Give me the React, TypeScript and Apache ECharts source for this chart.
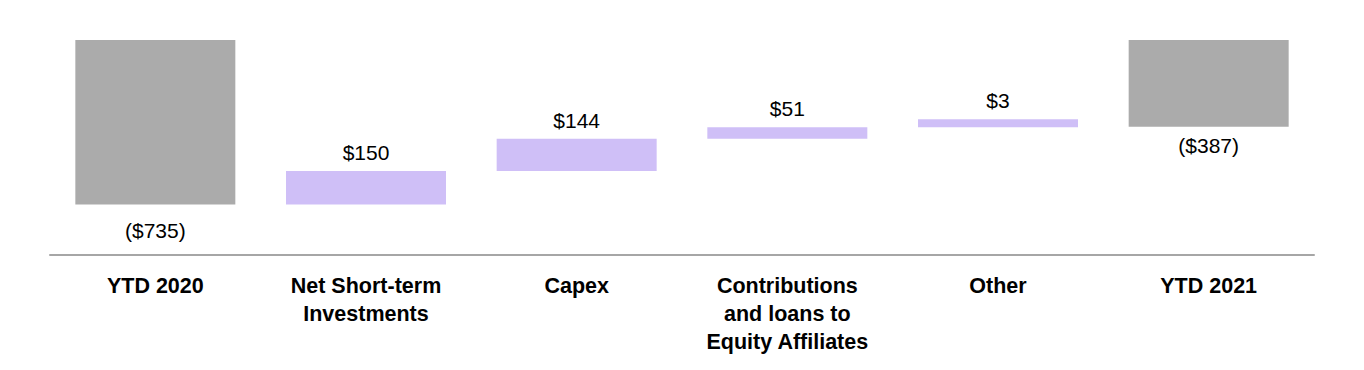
import React, { useEffect, useRef } from "react";
import * as echarts from "echarts";

const categories = [
  "YTD 2020",
  "Net Short-term\nInvestments",
  "Capex",
  "Contributions\nand loans to\nEquity Affiliates",
  "Other",
  "YTD 2021",
];
// Cash position (negative = deficit) and the improvements between them
const openingBalance = -735;
const improvements = [150, 144, 51, 3];
const closingBalance = -387;

const axisDepth = 960; // depth of the (inverted) value axis

const GRAY = "#ababab";
const PURPLE = "#cfbff7";
const FONT = "'Liberation Sans', Arial, Helvetica, sans-serif";

const money = (v: number) => (v < 0 ? `($${Math.abs(v)})` : `$${v}`);

export default function App() {
  const ref = useRef<HTMLDivElement>(null);

  useEffect(() => {
    if (!ref.current) return;
    const chart = echarts.init(ref.current, null, { renderer: "svg" });

    const base: number[] = [];
    const visible: any[] = [];
    base.push(0);
    visible.push({
      value: -openingBalance,
      itemStyle: { color: GRAY },
      label: { position: "bottom", distance: 15, formatter: money(openingBalance) },
    });
    let level = -openingBalance;
    improvements.forEach((d) => {
      base.push(level);
      visible.push({
        value: -d,
        itemStyle: { color: PURPLE },
        label: { position: "top", distance: 8, formatter: money(d) },
      });
      level -= d;
    });
    base.push(0);
    visible.push({
      value: -closingBalance,
      itemStyle: { color: GRAY },
      label: { position: "bottom", distance: 8, formatter: money(closingBalance) },
    });

    chart.setOption({
      animation: false,
      grid: {
        left: 50,
        right: 50,
        top: 40,
        bottom: 115,
        containLabel: false,
        outerBoundsMode: "none",
      },
      xAxis: {
        type: "category",
        data: categories,
        axisLine: { onZero: false, lineStyle: { color: "#a6a6a6", width: 2 } },
        axisTick: { show: false },
        axisLabel: {
          interval: 0,
          margin: 17,
          color: "#000",
          fontFamily: FONT,
          fontWeight: "bold",
          fontSize: 21.5,
          lineHeight: 28,
        },
      },
      yAxis: {
        type: "value",
        inverse: true,
        min: 0,
        max: axisDepth,
        show: false,
        splitLine: { show: false },
      },
      series: [
        {
          type: "bar",
          stack: "w",
          stackStrategy: "all",
          data: base,
          barWidth: 160,
          itemStyle: { color: "transparent" },
          silent: true,
        },
        {
          type: "bar",
          stack: "w",
          stackStrategy: "all",
          data: visible,
          barWidth: 160,
          barMinHeight: 8,
          label: {
            show: true,
            color: "#000",
            fontFamily: FONT,
            fontSize: 21,
          },
        },
      ],
    });
    return () => chart.dispose();
  }, []);

  return (
    <div
      ref={ref}
      style={{ position: "absolute", left: 0, top: 0, width: 1364, height: 370, background: "#fff" }}
    />
  );
}
